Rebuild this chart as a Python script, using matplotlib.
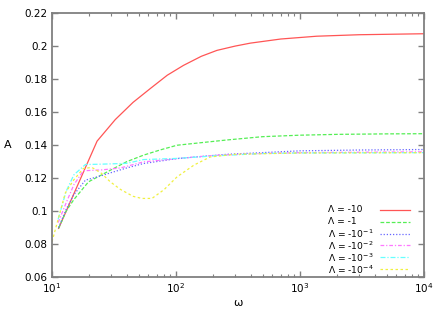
import matplotlib
matplotlib.use("Agg")
import matplotlib.pyplot as plt
from matplotlib.ticker import LogLocator, FixedLocator, NullFormatter

labels = ["Λ = -10", "Λ = -1", "Λ = -10$^{-1}$",
          "Λ = -10$^{-2}$", "Λ = -10$^{-3}$", "Λ = -10$^{-4}$"]

w_red = [11.3, 23.1, 32.4, 45, 62, 85, 115, 160, 214, 300, 398, 700, 1365, 3000, 10000]
a_red = [0.0895, 0.1425, 0.1556, 0.1660, 0.1744, 0.1825, 0.1885, 0.1940, 0.1976, 0.2002, 0.2020, 0.2045, 0.2062, 0.2071, 0.2077]

w_green = [11.3, 13.0, 15.0, 19.7, 29.5, 40, 54.8, 75, 102, 157, 258, 500, 1000, 2000, 5000, 10000]
a_green = [0.0895, 0.1000, 0.1070, 0.1178, 0.1248, 0.1300, 0.1340, 0.1372, 0.1400, 0.1415, 0.1432, 0.1452, 0.1461, 0.1466, 0.1469, 0.1470]

w_blue = [11.3, 13.0, 15.0, 18.6, 25, 29.5, 40, 54.8, 102, 258, 1000, 3000, 10000]
a_blue = [0.0900, 0.1010, 0.1100, 0.1188, 0.1215, 0.1232, 0.1262, 0.1289, 0.1319, 0.1345, 0.1366, 0.1371, 0.1374]

w_mag = [11.2, 13.0, 15.0, 17.9, 25, 35.6, 54.8, 102, 200, 500, 1000, 10000]
a_mag = [0.0930, 0.1050, 0.1160, 0.1245, 0.1250, 0.1262, 0.1299, 0.1319, 0.1338, 0.1350, 0.1355, 0.1360]

w_cyan = [11.2, 13.0, 15.0, 18.6, 25, 40, 54.8, 102, 200, 500, 1000, 10000]
a_cyan = [0.0950, 0.1120, 0.1220, 0.1283, 0.1285, 0.1290, 0.1313, 0.1320, 0.1335, 0.1350, 0.1353, 0.1355]

w_yel = [10.0, 12.8, 15.0, 17.9, 21, 25, 29.5, 35.6, 45, 53, 64, 80, 102, 140, 189, 300, 1000, 10000]
a_yel = [0.0814, 0.1110, 0.1190, 0.1259, 0.1265, 0.1230, 0.1178, 0.1132, 0.1090, 0.1077, 0.1077, 0.1130, 0.1208, 0.1280, 0.1329, 0.1345, 0.1353, 0.1355]

series = [(w_red, a_red), (w_green, a_green), (w_blue, a_blue),
          (w_mag, a_mag), (w_cyan, a_cyan), (w_yel, a_yel)]
colors = ['#ff5555', '#55ee55', '#6666ff', '#ff77ff', '#66ffff', '#f0f040']
styles = ['-', (0, (3, 1.5)), (0, (1, 1.5)), (0, (3, 1.5, 1, 1.5)), (0, (4, 1.5, 1, 1.5)), (0, (2, 2))]

plt.rcParams['font.family'] = ['DejaVu Sans']
plt.rcParams['mathtext.fontset'] = 'dejavusans'
fig = plt.figure(figsize=(4.43, 3.10), dpi=100)
ax = fig.add_axes([0.1174, 0.1065, 0.8396, 0.8500])

for (w, a), c, ls in zip(series, colors, styles):
    ax.plot(w, a, color=c, ls=ls, lw=0.9)

ax.set_xscale('log')
ax.set_xlim(10, 1e4)
ax.set_ylim(0.06, 0.22)
ax.set_yticks([0.06, 0.08, 0.1, 0.12, 0.14, 0.16, 0.18, 0.2, 0.22])
ax.set_yticklabels(['0.06', '0.08', '0.1', '0.12', '0.14', '0.16', '0.18', '0.2', '0.22'])
ax.xaxis.set_major_locator(FixedLocator([10, 100, 1000, 10000]))
ax.set_xticklabels([r'10$^1$', r'10$^2$', r'10$^3$', r'10$^4$'])
ax.xaxis.set_minor_locator(LogLocator(base=10, subs=range(2, 10)))
ax.xaxis.set_minor_formatter(NullFormatter())

ax.tick_params(which='both', direction='in', top=True, right=True, labelsize=7.5,
               color='#808080', pad=3)
ax.tick_params(which='major', length=4, width=1)
ax.tick_params(which='minor', length=2, width=0.8)
for s in ax.spines.values():
    s.set_color('#808080')
    s.set_linewidth(1.3)

ax.set_xlabel('ω', fontsize=8, labelpad=2)
ax.set_ylabel('A', fontsize=8, rotation=0, va='center')
ax.yaxis.set_label_coords(-0.12, 0.5)

# legend, gnuplot style: text left, line sample right
leg_y = [0.256, 0.2105, 0.165, 0.1195, 0.074, 0.0285]
for lab, c, ls, y in zip(labels, colors, styles, leg_y):
    ax.text(0.742, y, lab, transform=ax.transAxes, fontsize=6.6, va='center', ha='left')
    ax.plot([0.882, 0.962], [y, y], transform=ax.transAxes, color=c, ls=ls, lw=0.9)

fig.savefig('out.png', dpi=100)
